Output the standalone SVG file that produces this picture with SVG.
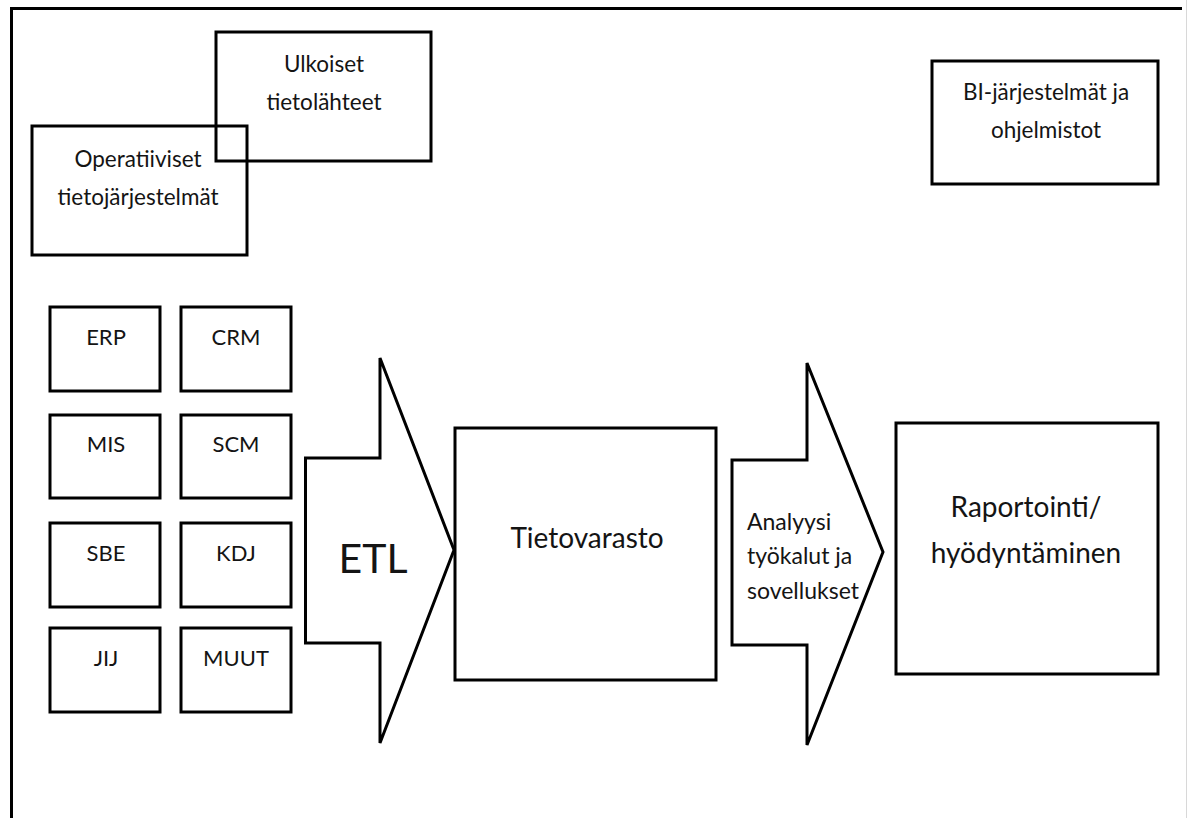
<svg xmlns="http://www.w3.org/2000/svg" width="1188" height="818" viewBox="0 0 1188 818">
  <style>
    .box { fill: #ffffff; stroke: #000000; stroke-width: 3; }
    .hollow { fill: none; stroke: #000000; stroke-width: 3; }
    .arrow { fill: #ffffff; stroke: #000000; stroke-width: 3; stroke-linejoin: miter; }
    text { font-family: Lato, "Open Sans", "Liberation Sans", sans-serif; fill: #141414; }
    .c { text-anchor: middle; }
    .s { font-size: 22px; }
    .m { font-size: 22.5px; }
    .a { font-size: 23px; }
    .l { font-size: 28px; }
  </style>
  <rect width="1188" height="818" fill="#ffffff"/>

  <!-- frame -->
  <g id="frame">
    <path d="M11.5 818 V8.5 H1182" class="hollow"/>
    <line x1="1186.5" y1="0" x2="1186.5" y2="818" stroke="#d8d8d8" stroke-width="1"/>
  </g>

  <!-- source groups (overlapping outline boxes) -->
  <g id="ulkoiset">
    <rect x="216" y="32" width="215" height="129" class="hollow"/>
    <text class="c m" x="324" y="72">Ulkoiset</text>
    <text class="c m" x="324" y="110">tietolähteet</text>
  </g>
  <g id="operatiiviset">
    <rect x="32" y="126" width="215" height="129" class="hollow"/>
    <text class="c m" x="138" y="167">Operatiiviset</text>
    <text class="c m" x="138" y="205">tietojärjestelmät</text>
  </g>
  <g id="bi">
    <rect x="932" y="61" width="226" height="123" class="box"/>
    <text class="c m" x="1046" y="100">BI-järjestelmät ja</text>
    <text class="c m" x="1046" y="138">ohjelmistot</text>
  </g>

  <!-- operational systems -->
  <g id="erp"><rect x="50" y="307" width="110" height="84" class="box"/><text class="c s" x="106" y="345">ERP</text></g>
  <g id="crm"><rect x="181" y="307" width="110" height="84" class="box"/><text class="c s" x="236" y="345">CRM</text></g>
  <g id="mis"><rect x="50" y="415" width="110" height="83" class="box"/><text class="c s" x="106" y="452">MIS</text></g>
  <g id="scm"><rect x="181" y="415" width="110" height="83" class="box"/><text class="c s" x="236" y="452">SCM</text></g>
  <g id="sbe"><rect x="50" y="523" width="110" height="84" class="box"/><text class="c s" x="106" y="561">SBE</text></g>
  <g id="kdj"><rect x="181" y="523" width="110" height="84" class="box"/><text class="c s" x="236" y="561">KDJ</text></g>
  <g id="jij"><rect x="50" y="628" width="110" height="84" class="box"/><text class="c s" x="106" y="666">JIJ</text></g>
  <g id="muut"><rect x="181" y="628" width="110" height="84" class="box"/><text class="c s" x="236" y="666">MUUT</text></g>

  <!-- block arrows -->
  <g id="connectors">
    <g id="etl">
      <path d="M305.5 458 H380 V358 L454 550 L380 743 V643 H305.5 Z" class="arrow"/>
      <text x="373" y="573" class="c" font-size="41">ETL</text>
    </g>
    <g id="analyysi">
      <path d="M732 460 H807 V363 L883 552 L807 745 V645 H732 Z" class="arrow"/>
      <text x="747" y="530" class="a">Analyysi</text>
      <text x="747" y="564" class="a">työkalut ja</text>
      <text x="747" y="599" class="a">sovellukset</text>
    </g>
  </g>

  <g id="tietovarasto">
    <rect x="455" y="428" width="261" height="252" class="box"/>
    <text class="c l" x="587" y="548">Tietovarasto</text>
  </g>
  <g id="raportointi">
    <rect x="896" y="423" width="262" height="251" class="box"/>
    <text class="c l" x="1026" y="517">Raportointi/</text>
    <text class="c l" x="1026" y="563">hyödyntäminen</text>
  </g>
</svg>
